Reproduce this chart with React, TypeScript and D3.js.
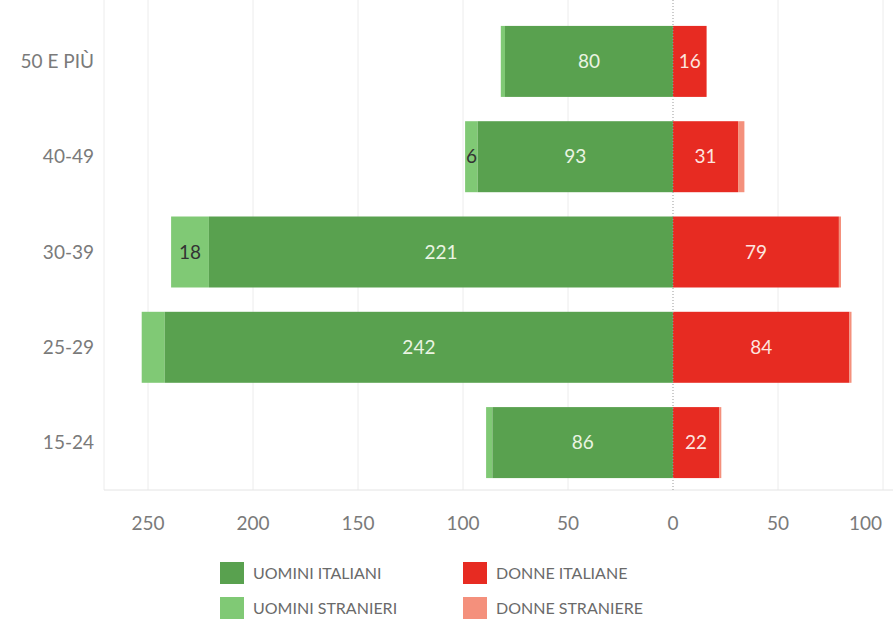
import React from "react";
import * as d3 from "d3";

const categories = ["50 E PIÙ", "40-49", "30-39", "25-29", "15-24"];
const uominiItaliani = [80, 93, 221, 242, 86];
const uominiStranieri = [2, 6, 18, 11, 3];
const donneItaliane = [16, 31, 79, 84, 22];
const donneStraniere = [0, 3, 1, 1, 1];
const uominiStranieriShowLabel = [false, true, true, false, false];
const tickValues = [-250, -200, -150, -100, -50, 0, 50, 100];
const legendLabels = ["UOMINI ITALIANI", "DONNE ITALIANE", "UOMINI STRANIERI", "DONNE STRANIERE"];

const COL_UI = "#59a14f";
const COL_US = "#80c975";
const COL_DI = "#e72b22";
const COL_DS = "#f4907c";
const FONT = "Lato, 'Open Sans', sans-serif";

export default function App() {
  const W = 893, H = 619;
  const x = d3.scaleLinear().domain([-250, 100]).range([148, 883]);
  const plotLeft = 104, plotTop = 14, plotBottom = 490;
  const y = d3.scaleBand().domain(categories).range([plotTop, plotBottom]).paddingInner(0.255).paddingOuter(0.125);
  const bh = y.bandwidth();
  const legendColors = [COL_UI, COL_DI, COL_US, COL_DS];

  return (
    <svg width={W} height={H} style={{ position: "absolute", left: 0, top: 0, background: "#fff" }} fontFamily={FONT}>
      {/* grid */}
      <line x1={plotLeft} x2={plotLeft} y1={0} y2={plotBottom} stroke="#ececec" />
      {tickValues.filter(t => t !== 0).map(t => (
        <line key={t} x1={x(t)} x2={x(t)} y1={0} y2={plotBottom} stroke="#ececec" />
      ))}
      <line x1={plotLeft} x2={W} y1={plotBottom} y2={plotBottom} stroke="#e4e4e4" />
      {/* bars */}
      {categories.map((c, i) => {
        const y0 = y(c)!;
        const cy = y0 + bh / 2;
        const ui = uominiItaliani[i], us = uominiStranieri[i], di = donneItaliane[i], ds = donneStraniere[i];
        return (
          <g key={c}>
            <rect x={x(-ui - us)} y={y0} width={x(-ui) - x(-ui - us)} height={bh} fill={COL_US} />
            <rect x={x(-ui)} y={y0} width={x(0) - x(-ui)} height={bh} fill={COL_UI} />
            <rect x={x(0)} y={y0} width={x(di) - x(0)} height={bh} fill={COL_DI} />
            <rect x={x(di)} y={y0} width={x(di + ds) - x(di)} height={bh} fill={COL_DS} />
            <text x={(x(-ui) + x(0)) / 2} y={cy} dy="0.35em" textAnchor="middle" fontSize={19} fill="#eaf4e2">{ui}</text>
            <text x={(x(0) + x(di)) / 2} y={cy} dy="0.35em" textAnchor="middle" fontSize={19} fill="#fde4df">{di}</text>
            {uominiStranieriShowLabel[i] && (
              <text x={(x(-ui - us) + x(-ui)) / 2} y={cy} dy="0.35em" textAnchor="middle" fontSize={19} fill="#333">{us}</text>
            )}
            <text x={94} y={cy} dy="0.35em" textAnchor="end" fontSize={19} fill="#7a7a7a">{c}</text>
          </g>
        );
      })}
      {/* zero line */}
      <line x1={x(0)} x2={x(0)} y1={0} y2={plotBottom} stroke="#999" strokeDasharray="1,2" />
      {/* x tick labels */}
      {tickValues.map((t, i) => {
        const last = i === tickValues.length - 1;
        return (
          <text key={t} x={last ? 882 : x(t)} y={523} dy="0.35em" textAnchor={last ? "end" : "middle"} fontSize={19} fill="#7a7a7a">
            {Math.abs(t)}
          </text>
        );
      })}
      {/* legend */}
      {legendLabels.map((l, i) => {
        const col = i % 2, row = Math.floor(i / 2);
        const lx = col === 0 ? 220 : 463;
        const ly = row === 0 ? 562 : 597;
        return (
          <g key={l}>
            <rect x={lx} y={ly} width={24} height={22} fill={legendColors[i]} />
            <text x={lx + 33} y={ly + 11} dy="0.35em" fontSize={16} fill="#6a6a6a">{l}</text>
          </g>
        );
      })}
    </svg>
  );
}
